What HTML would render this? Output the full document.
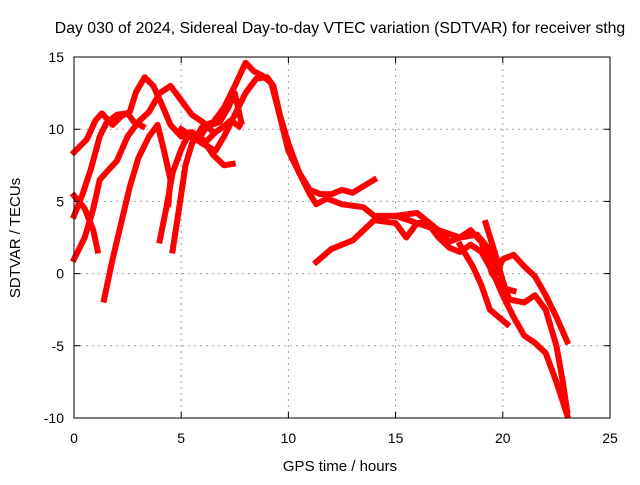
<!DOCTYPE html>
<html><head><meta charset="utf-8"><style>
body{margin:0;background:#fff;}
svg text{font-family:"Liberation Sans",sans-serif;font-size:14px;fill:#000;}
</style></head><body>
<svg id="chart" width="640" height="480" xmlns="http://www.w3.org/2000/svg">
<rect width="640" height="480" fill="#fff"/>
<g id="grid"></g>
<g id="series"></g>
<rect x="74" y="57" width="536" height="361" fill="none" stroke="#000" stroke-width="1"/>
<g id="ticks"></g>
<text x="340" y="33" text-anchor="middle" style="font-size:15.8px">Day 030 of 2024, Sidereal Day-to-day VTEC variation (SDTVAR) for receiver sthg</text>
<text x="340" y="471" text-anchor="middle" style="font-size:15px">GPS time / hours</text>
<text transform="translate(20,238) rotate(-90)" text-anchor="middle" style="font-size:15px">SDTVAR / TECUs</text>
</svg>
<script>
const xTicks=[0,5,10,15,20,25];
const yTicks=[15,10,5,0,-5,-10];
const track1=[[0,8.4],[0.6,9.3],[1,10.6],[1.3,11.1],[1.8,10.3],[2.2,10.9],[2.6,11.2],[2.9,12.6],[3.3,13.6],[3.7,13],[4.1,11.7],[4.5,10.3],[5,9.5],[5.5,9.8],[6,9.3],[6.5,8.2],[7,7.5],[7.4,7.6]];
const track2=[[0,4],[0.4,5.5],[0.8,7.3],[1.2,9.5],[1.5,10.4],[2,11],[2.5,11.1],[2.8,10.5],[3.2,10.2]];
const track3=[[0,1],[0.5,2.5],[0.9,4.5],[1.2,6.5],[1.5,7],[2,7.8],[2.5,9.5],[3,10.5],[3.5,11.2],[4,12.5],[4.5,13],[5,12],[5.5,11],[6,10.5],[6.5,9.8]];
const track4=[[0,5.4],[0.5,4.5],[0.9,3],[1.1,1.6]];
const track5=[[1.4,-1.8],[1.8,1],[2.2,3.5],[2.6,6],[3,8],[3.5,9.5],[3.9,10.3],[4.2,8.5],[4.5,6.5],[4.4,4.8]];
const track6=[[4.6,1.6],[4.9,4.5],[5.2,7.5],[5.5,9],[6,10.2],[6.5,10.5],[7,11.5],[7.5,13],[8,14.6],[8.4,14],[8.8,13.7],[9.2,13.2],[9.5,11.5],[10,8.5],[10.5,7],[11,5.8],[11.5,5.5],[12,5.5],[12.5,5.8],[13,5.6],[14,6.5]];
const track7=[[5,10],[6,9],[6.6,8.5],[7,9.5],[7.5,11],[8,12.5],[8.5,13.5],[9,13.6],[9.3,13],[9.6,11],[10,9],[10.5,7],[11,5.5],[11.3,4.8],[11.8,5.2],[12.5,4.8],[13.5,4.6],[14,4],[15,4],[16,3.5],[17,3],[17.5,2.2],[18,2.5],[18.5,3],[19,2.2],[19.5,0],[20,-1],[20.5,-1.2]];
const track8=[[11.3,0.8],[12,1.7],[13,2.3],[13.5,3],[14,3.7],[15,3.5],[15.5,2.5],[16,3.5],[16.5,3.5],[17,2.5],[17.5,1.8],[18,1.5],[18.5,2],[19,1.5],[19.5,0.2],[20,-1.5],[20.5,-3],[21,-4.3],[21.5,-4.8],[22,-5.5],[22.5,-7.5],[23,-9.8]];
const track9=[[15,4],[16,4.2],[17,3],[18,2.5],[18.8,2.7],[19.3,1.8],[19.7,0],[20,1],[20.5,1.3],[21,0.5],[21.5,-0.2],[22,-1.5],[22.5,-3],[23,-4.7]];
const track10=[[19.2,3.5],[19.6,1.6],[20,-0.5],[20.3,-1.8],[21,-2],[21.5,-1.5],[22,-2.5],[22.5,-5],[22.8,-7.5],[23,-9.5]];
const track11=[[18,2],[18.6,0.5],[19,-0.8],[19.4,-2.5],[20.2,-3.5]];
const track12=[[4.0,2.3],[4.3,4.5],[4.6,7],[5,8.6],[5.3,9.5],[5.8,9.3],[6.2,10.2],[6.8,10.5],[7.2,11.5],[7.5,12.5],[7.8,10.5]];
const track13=[[6.2,9.2],[6.6,9.8],[7,10.2],[7.3,10.6],[7.7,10.2]];
const tracks=[track1,track2,track3,track4,track5,track6,track7,track8,track9,track10,track11,track12,track13];
const X0=74,X1=610,Y0=418,Y1=57;
function xs(v){return X0+(v-0)/(25-0)*(X1-X0);}
function ys(v){return Y0-(v+10)/(25)*(Y0-Y1);}
const NS="http://www.w3.org/2000/svg";
const grid=document.getElementById('grid'),tk=document.getElementById('ticks'),ser=document.getElementById('series');
xTicks.forEach(t=>{
 const x=xs(t);
 if(t>0&&t<25){const l=document.createElementNS(NS,'line');
 
 
 l.setAttribute('x1',x);l.setAttribute('x2',x);l.setAttribute('y1',Y1);l.setAttribute('y2',Y0);
 l.setAttribute('stroke','#a0a0a0');l.setAttribute('stroke-dasharray','2,4');grid.appendChild(l);}
 const m=document.createElementNS(NS,'path');
 
 
 m.setAttribute('d',`M${x},${Y0}v-6M${x},${Y1}v6`);m.setAttribute('stroke','#000');tk.appendChild(m);
 const tx=document.createElementNS(NS,'text');
 
 
 tx.setAttribute('x',x);tx.setAttribute('y',443);tx.setAttribute('text-anchor','middle');tx.textContent=t;tk.appendChild(tx);
});
yTicks.forEach(t=>{
 const y=ys(t);
 if(t>-10&&t<15){const l=document.createElementNS(NS,'line');
 
 
 l.setAttribute('x1',X0);l.setAttribute('x2',X1);l.setAttribute('y1',y);l.setAttribute('y2',y);
 l.setAttribute('stroke','#a0a0a0');l.setAttribute('stroke-dasharray','2,4');grid.appendChild(l);}
 const m=document.createElementNS(NS,'path');
 
 
 m.setAttribute('d',`M${X0},${y}h6M${X1},${y}h-6`);m.setAttribute('stroke','#000');tk.appendChild(m);
 const tx=document.createElementNS(NS,'text');
 
 
 tx.setAttribute('x',64);tx.setAttribute('y',y+5);tx.setAttribute('text-anchor','end');tx.textContent=t;tk.appendChild(tx);
});
tracks.forEach((tr,i)=>{
 const p=document.createElementNS(NS,'polyline');
 
 
 p.setAttribute('points',tr.map(d=>xs(d[0])+','+ys(d[1])).join(' '));
 p.setAttribute('fill','none');p.setAttribute('stroke','#ff0000');p.setAttribute('stroke-width','6');
 p.setAttribute('stroke-linejoin','round');p.setAttribute('stroke-linecap','square');
 ser.appendChild(p);
});
</script>
</body></html>
